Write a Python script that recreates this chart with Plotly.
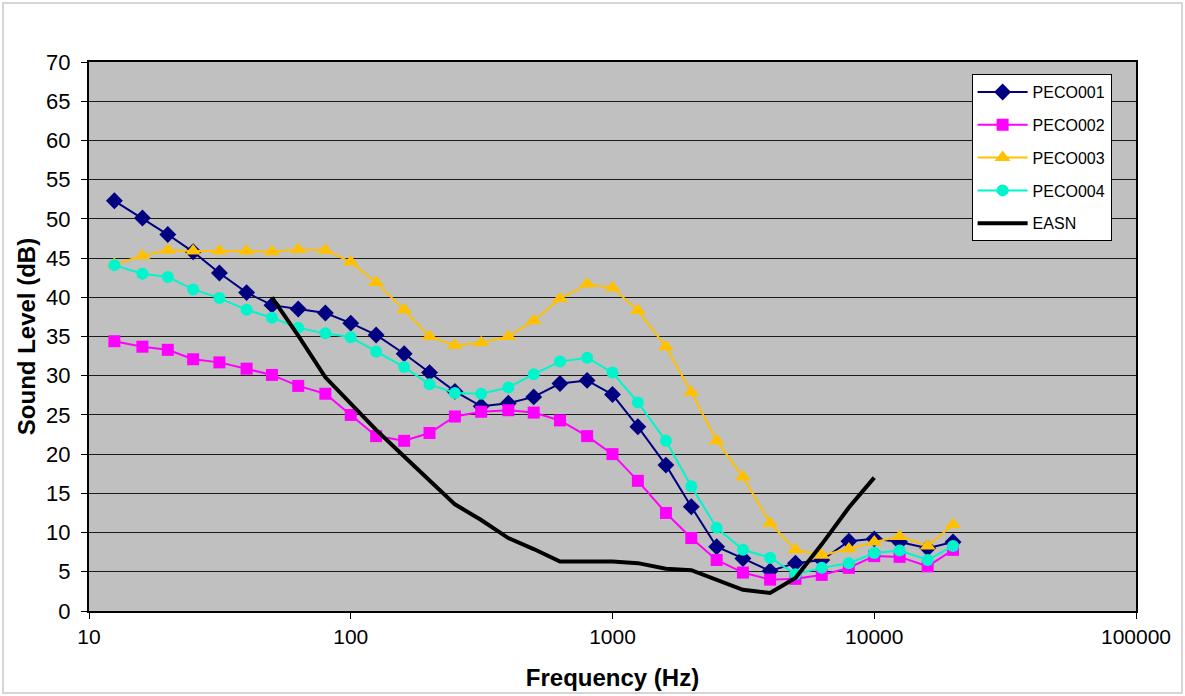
import plotly.graph_objects as go

freq = [12.5, 16, 20, 25, 31.5, 40, 50, 63, 80, 100, 125, 160, 200, 250, 315, 400, 500,
        630, 800, 1000, 1250, 1600, 2000, 2500, 3150, 4000, 5000, 6300, 8000, 10000,
        12500, 16000, 20000]

peco001 = [52.3, 50.1, 48.0, 45.8, 43.1, 40.6, 39.0, 38.5, 38.0, 36.7, 35.2, 32.8, 30.4, 28.0,
           26.1, 26.5, 27.3, 29.0, 29.4, 27.6, 23.5, 18.6, 13.3, 8.2, 6.7, 5.1, 6.1, 6.5,
           8.9, 9.2, 8.8, 8.0, 8.8]
peco002 = [34.4, 33.7, 33.3, 32.1, 31.7, 30.9, 30.1, 28.7, 27.7, 25.0, 22.3, 21.7, 22.7, 24.8,
           25.4, 25.6, 25.3, 24.3, 22.3, 20.0, 16.6, 12.5, 9.3, 6.5, 4.9, 4.0, 4.1, 4.6,
           5.5, 7.0, 6.9, 5.7, 7.8]
peco003 = [44.2, 45.3, 46.0, 45.9, 45.9, 45.9, 45.8, 46.1, 46.0, 44.5, 41.9, 38.4, 35.0, 33.9,
           34.2, 35.0, 37.0, 39.8, 41.7, 41.2, 38.3, 33.7, 27.9, 21.7, 17.1, 11.2, 7.8, 7.1,
           7.9, 8.8, 9.5, 8.3, 11.0]
peco004 = [44.1, 43.0, 42.6, 41.0, 39.9, 38.4, 37.4, 36.1, 35.4, 34.9, 33.1, 31.1, 28.9, 27.8,
           27.7, 28.5, 30.2, 31.8, 32.3, 30.4, 26.6, 21.7, 15.9, 10.6, 7.8, 6.8, 4.7, 5.5,
           6.1, 7.4, 7.7, 6.5, 8.3]

easn_freq = [50, 63, 80, 100, 125, 160, 200, 250, 315, 400, 500, 630, 800, 1000, 1250, 1600,
             2000, 2500, 3150, 4000, 5000, 6300, 8000, 10000]
easn = [40.0, 35.1, 29.8, 26.4, 23.1, 19.7, 16.6, 13.6, 11.6, 9.3, 7.9, 6.3, 6.3, 6.3, 6.1,
        5.4, 5.2, 4.0, 2.7, 2.3, 4.2, 8.5, 13.2, 17.0]

x_ticks = [10, 100, 1000, 10000, 100000]
x_tick_labels = ["10", "100", "1000", "10000", "100000"]
y_ticks = list(range(0, 75, 5))

FONT = "Arial, Liberation Sans, sans-serif"

fig = go.Figure()
series = [
    ("PECO001", peco001, "#000080", "diamond", 13),
    ("PECO002", peco002, "#FF00FF", "square", 12),
    ("PECO003", peco003, "#FFC000", "triangle-up", 14),
    ("PECO004", peco004, "#00F5CC", "circle", 12),
]
for name, vals, col, sym, sz in series:
    fig.add_trace(go.Scatter(x=freq, y=vals, name=name, mode="lines+markers",
                             legendgroup=name,
                             line=dict(color=col, width=2),
                             marker=dict(symbol=sym, size=sz, color=col)))
fig.add_trace(go.Scatter(x=easn_freq, y=easn, name="EASN", mode="lines",
                         legendgroup="EASN",
                         line=dict(color="black", width=4)))

fig.update_layout(
    width=1185, height=696,
    margin=dict(l=89, r=49, t=62, b=85),
    paper_bgcolor="white",
    plot_bgcolor="#C0C0C0",
    font=dict(family=FONT, color="black", size=20),
    showlegend=True,
    legend=dict(x=0.843, y=0.978, xanchor="left", yanchor="top",
                bgcolor="white", bordercolor="black", borderwidth=1,
                font=dict(size=16, family=FONT), tracegroupgap=9,
                itemwidth=50),
    xaxis=dict(type="log", range=[1, 5], tickvals=x_ticks, ticktext=x_tick_labels,
               showgrid=False, ticks="outside", ticklen=6, tickcolor="black",
               showline=True, linecolor="black", linewidth=2, mirror=True,
               tickfont=dict(size=21, family=FONT), automargin=False,
               title=dict(text="<b>Frequency (Hz)</b>", font=dict(size=24, family=FONT),
                          standoff=22),
               zeroline=False),
    yaxis=dict(range=[0, 70], tickvals=y_ticks, showgrid=True, gridcolor="#1a1a1a",
               gridwidth=1, ticks="outside", ticklen=6, tickcolor="black",
               showline=True, linecolor="black", linewidth=2, mirror=True,
               tickfont=dict(size=22, family=FONT), ticklabelstandoff=6,
               automargin=False,
               title=dict(text="<b>Sound Level (dB)</b>", font=dict(size=24, family=FONT),
                          standoff=4),
               zeroline=False),
)

# outer chart border
fig.add_shape(type="rect", xref="paper", yref="paper",
              x0=(3 - 89) / 1047, x1=(1182 - 89) / 1047,
              y0=(611 - 693) / 549, y1=(611 - 3) / 549,
              line=dict(color="#C8C8C8", width=1.5), layer="below")

fig.write_html("out.html")
